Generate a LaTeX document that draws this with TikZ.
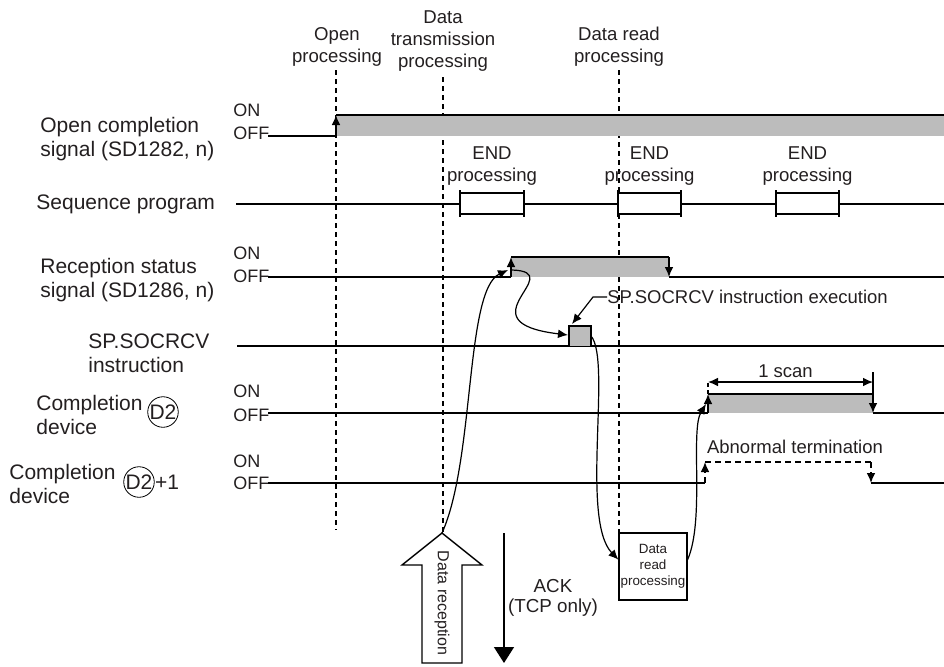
\documentclass[tikz,border=0pt]{standalone}
\usepackage{fontspec}
\setmainfont{Liberation Sans}
\usepackage{xcolor}
\usetikzlibrary{arrows.meta,positioning,calc}
\definecolor{ink}{RGB}{35,31,32}
\definecolor{sigfill}{RGB}{188,188,188}

\begin{document}
\begin{tikzpicture}[
    x=0.5pt, y=-0.5pt,
    >={Latex[length=5pt,width=4.4pt]},
    every node/.style={text=ink},
    sidelbl/.style={anchor=west, align=left, inner sep=0pt, font=\fontsize{10.5}{12}\selectfont},
    toplbl/.style={align=center, inner sep=0pt, font=\fontsize{9.3}{11}\selectfont},
    note/.style={inner sep=0pt, font=\fontsize{9.25}{11}\selectfont},
    onoff/.style={anchor=west, inner sep=0pt, font=\fontsize{9}{10}\selectfont},
    devcirc/.style={circle, draw, inner sep=0pt, font=\fontsize{10.5}{12}\selectfont},
    sig/.style={line width=0.7pt},
    guide/.style={line width=0.6pt, dash pattern=on 2.5pt off 2pt},
    abn/.style={sig, dash pattern=on 3pt off 2pt},
    endbox/.style={draw, fill=white, line width=0.6pt, minimum width=31.25pt, minimum height=10.5pt, inner sep=0pt},
    readproc/.style={draw, fill=white, line width=0.6pt, minimum width=34pt, minimum height=33.5pt, inner sep=0pt, align=center, font=\fontsize{6.7}{8}\selectfont},
    flow/.style={->, line width=0.6pt},
  ]
  \useasboundingbox (0,0) rectangle (944,666);

  % timing marks
  \node[toplbl] (openlbl) at (337,47) {Open\\processing};
  \node[toplbl] (sendlbl) at (443,41) {Data\\transmission\\processing};
  \node[toplbl] (readlbl) at (619,47) {Data read\\processing};
  \draw[guide] (336,70) -- (336,530);
  \draw[guide] (443,77) -- (443,533);
  \draw[guide] (619,70) -- (619,533);

  % signal names
  \node[sidelbl] (opensig) at (40,139) {Open completion\\signal (SD1282, n)};
  \node[sidelbl] (seqprog) at (36,204) {Sequence program};
  \node[sidelbl] (rcvsig) at (40,280) {Reception status\\signal (SD1286, n)};
  \node[sidelbl] (socinst) at (88,353) {SP.SOCRCV\\instruction};
  \node[sidelbl] (cdev) at (36,415) {Completion\\device};
  \node[devcirc] (cd2) at (163,412) {D2};
  \node[sidelbl] (cdev1) at (9,484) {Completion\\device};
  \node[devcirc] (cd2b) at (139,482) {D2};
  \node[sidelbl, right=0pt of cd2b] (plus1) {+1};

  \foreach \y/\n in {110/1, 253/3, 391/5, 461/6}
    \node[onoff] (on\n) at (233,\y) {ON};
  \foreach \y/\n in {133/1, 276/3, 415/5, 483/6}
    \node[onoff] (off\n) at (233,\y) {OFF};

  % open completion signal
  \fill[sigfill] (336,115) rectangle (944,136);
  \draw[sig] (268,136) -- (336,136) (336,115) -- (944,115);
  \draw[sig,->] (336,136) -- (336,115);

  % sequence program
  \draw[sig] (236,204) -- (944,204);
  \node[endbox] (end1) at (492,203.5) {};
  \node[endbox] (end2) at (649.5,203.5) {};
  \node[endbox] (end3) at (807.5,203.5) {};
  \foreach \b in {end1,end2,end3} {
    \draw[line width=1.1pt] ([yshift=1pt]\b.north west) -- ([yshift=-1pt]\b.south west)
      ([yshift=1pt]\b.north east) -- ([yshift=-1pt]\b.south east);
    \node[toplbl, above=3.5pt of \b] (\b-lbl) {END\\processing};
  }

  % reception status signal
  \fill[sigfill] (511,257) rectangle (669,277);
  \draw[sig] (268,277) -- (511,277) (511,257) -- (669,257) (669,277) -- (944,277);
  \draw[sig,->] (511,277) -- (511,257);
  \draw[sig,->] (669,257) -- (669,277);

  % SP.SOCRCV
  \draw[sig] (237,346) -- (944,346);
  \draw[sig, fill=sigfill] (569,346) -- (569,326) -- (591,326) -- (591,346);

  % completion device
  \fill[sigfill] (708,394) rectangle (873,413);
  \draw[sig] (268,413) -- (708,413) (708,394) -- (873,394) (873,413) -- (944,413);
  \draw[sig,->] (708,413) -- (708,394);
  \draw[sig] (873,372) -- (873,394);
  \draw[sig,->] (873,394) -- (873,413);
  \draw[sig, dash pattern=on 2pt off 1.5pt] (708,383) -- (708,394);
  \draw[sig,<->] (708,382) -- node[note, above=2pt, pos=0.47] (scan) {1 scan} (873,382);

  % completion device +1
  \draw[sig] (268,483) -- (705,483) (871,483) -- (944,483);
  \draw[abn,->] (705,483) -- (705,462);
  \draw[abn] (705,462) -- (871,462);
  \draw[abn,->] (871,462) -- (871,483);
  \node[note] (abnlbl) at (795,447) {Abnormal termination};

  % data reception / ACK
  \coordinate (rxtip) at (442,533);
  \draw[line width=0.7pt, fill=white] (rxtip) -- ++(40,32) -- ++(-20,0) -- ++(0,98)
    -- ++(-40,0) -- ++(0,-98) -- ++(-20,0) -- cycle;
  \node[rotate=-90, inner sep=0pt, font=\fontsize{8}{9}\selectfont] (rxlbl) at (442,603) {Data reception};
  \coordinate (acktop) at (504,533);
  \coordinate (ackbot) at (504,663);
  \draw[line width=0.7pt, -{Triangle[length=8pt,width=10pt]}] (acktop) -- (ackbot);
  \node[note, align=center, font=\fontsize{9.4}{10}\selectfont] (ack) at (553,598) {ACK\\(TCP only)};

  \node[readproc] (readbox) at (653,566.5) {Data\\read\\processing};

  % flow of events
  \coordinate (rsin) at (508,270);
  \coordinate (rsout) at (512,270);
  \coordinate (socin) at (568,335);
  \coordinate (socout) at (591,336);
  \coordinate (socpulse) at (572,324);
  \coordinate (readin) at ($(readbox.north west)!0.4!(readbox.south west)$);
  \coordinate (readout) at ($(readbox.north east)!0.4!(readbox.south east)$);
  \coordinate (cdin) at (706,404);

  \draw[flow] (rxtip) .. controls (475,460) and (465,290) .. (rsin);
  \draw[flow] (rsout) .. controls (570,272) and (460,322) .. (socin);
  \draw[flow] (socout) .. controls (612,360) and (580,520) .. (readin);
  \draw[flow] (readout) .. controls (705,520) and (690,430) .. (cdin);

  \node[note, anchor=west] (socnote) at (607,297) {SP.SOCRCV instruction execution};
  \draw[flow] (socnote.west) -- ++(-14,0) -- (socpulse);
\end{tikzpicture}
\end{document}
